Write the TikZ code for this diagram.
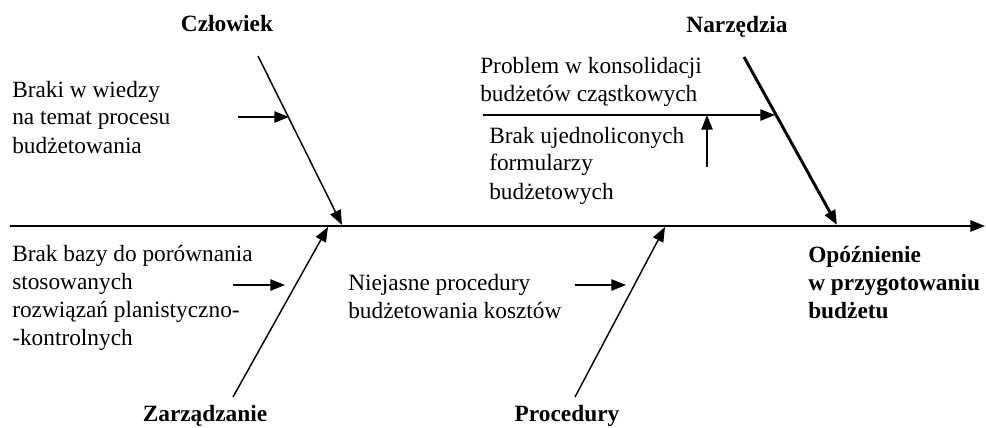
\documentclass[tikz,border=0pt]{standalone}
\usepackage{fontspec}
\setmainfont{Liberation Serif}
\usetikzlibrary{arrows.meta}
\begin{document}
\begin{tikzpicture}[x=0.75pt,y=-0.75pt,
  txt/.style={font=\fontsize{17.5}{21}\selectfont, align=left, inner sep=0pt, anchor=base west},
  lbl/.style={font=\fontsize{17.5}{21}\selectfont\bfseries, inner sep=0pt, anchor=base},
  spine/.style={line width=1.5pt, -{Triangle[length=11pt,width=8.5pt]}},
  bone/.style={line width=1.1pt, -{Triangle[length=11pt,width=8.5pt]}},
  thickbone/.style={line width=2.2pt, -{Triangle[length=11pt,width=8.5pt]}},
  cause/.style={line width=1.1pt, -{Triangle[length=11pt,width=8.5pt]}}]
\useasboundingbox (0,0) rectangle (986,428);

% spine
\coordinate (sL) at (10,226);
\coordinate (sR) at (985,226);
\draw[spine] (sL) -- (sR);

% category labels
\node[lbl] (cz) at (227,32) {Człowiek};
\node[lbl] (na) at (737,33) {Narzędzia};
\node[lbl] (za) at (205,421) {Zarządzanie};
\node[lbl] (pr) at (567,421) {Procedury};

% bones
\coordinate (c1) at (258,56);  \coordinate (c2) at (342,225);
\coordinate (n1) at (744,57);  \coordinate (n2) at (837,225);
\coordinate (z1) at (233,397); \coordinate (z2) at (328,227);
\coordinate (p1) at (575,397); \coordinate (p2) at (665,227);
\draw[bone] (c1) -- (c2);
\draw[thickbone] (n1) -- (n2);
\draw[bone] (z1) -- (z2);
\draw[bone] (p1) -- (p2);

% cause texts (anchored at the baseline of the last line)
\node[txt] (t1) at (12,153) {Braki w wiedzy\\na temat procesu\\budżetowania};
\node[txt] (t2) at (480,102) {Problem w konsolidacji\\budżetów cząstkowych};
\node[txt] (t3) at (489,199) {Brak ujednoliconych\\formularzy\\budżetowych};
\node[txt] (t4) at (12,345) {Brak bazy do porównania\\stosowanych\\rozwiązań planistyczno-\\-kontrolnych};
\node[txt] (t5) at (348,318) {Niejasne procedury\\budżetowania kosztów};
\node[txt, font=\fontsize{17.5}{21}\selectfont\bfseries] (ef) at (808,318) {Opóźnienie\\w przygotowaniu\\budżetu};

% cause arrows
\coordinate (a1s) at (238,117); \coordinate (a1e) at (289,117);
\coordinate (a2s) at (483,115); \coordinate (a2e) at (775,115);
\coordinate (a3s) at (707,167); \coordinate (a3e) at (707,115);
\coordinate (a4s) at (233,285); \coordinate (a4e) at (285,285);
\coordinate (a5s) at (575,285); \coordinate (a5e) at (626,285);
\draw[cause] (a1s) -- (a1e);
\draw[cause] (a2s) -- (a2e);
\draw[cause] (a3s) -- (a3e);
\draw[cause] (a4s) -- (a4e);
\draw[cause] (a5s) -- (a5e);
\end{tikzpicture}
\end{document}
